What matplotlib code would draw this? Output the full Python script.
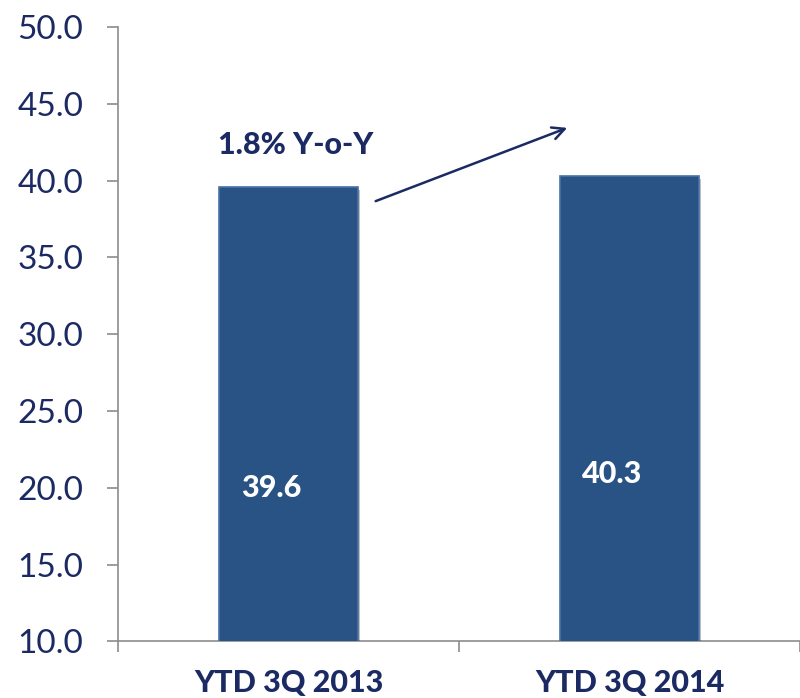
import matplotlib
matplotlib.use("Agg")
import matplotlib.pyplot as plt
import matplotlib.patheffects as pe
import numpy as np

categories = ["YTD 3Q 2013", "YTD 3Q 2014"]
values = [39.6, 40.3]
value_labels = ["39.6", "40.3"]
yticks = [10.0, 15.0, 20.0, 25.0, 30.0, 35.0, 40.0, 45.0, 50.0]
growth_label = "1.8% Y-o-Y"

navy = "#1b2a63"
bar_color = "#295285"
axis_gray = "#8c8c8c"

plt.rcParams['font.family'] = ['Lato', 'DejaVu Sans']

fig = plt.figure(figsize=(8, 6.98), dpi=100)
ax = fig.add_axes([0.1475, 0.081, 0.8525, 0.8803])

x = np.arange(len(categories)) + 0.5
bars = ax.bar(x, values, width=0.405, bottom=0, color=bar_color,
              edgecolor="#4a72a6", linewidth=1.2, zorder=3)
for b in bars:
    b.set_path_effects([pe.SimplePatchShadow(offset=(2, -2), shadow_rgbFace="#000000", alpha=0.25),
                        pe.Normal()])

ax.set_xlim(0, 2)
ax.set_ylim(10, 50)

# value labels inside bars
label_y = [20.0, 20.9]
for xi, ly, lab in zip(x, label_y, value_labels):
    ax.text(xi - 0.05, ly, lab, color="white", fontsize=22, fontweight="black",
            ha="center", va="center", zorder=5)

# growth annotation
ax.text(0.52, 42.35, growth_label, color=navy, fontsize=22, fontweight="black",
        ha="center", va="center")
ax.annotate("", xy=(1.325, 43.5), xytext=(0.748, 38.6),
            arrowprops=dict(arrowstyle="->", color=navy, lw=1.8,
                            mutation_scale=22), zorder=6)

# axes styling
for s in ["top", "right"]:
    ax.spines[s].set_visible(False)
for s in ["left", "bottom"]:
    ax.spines[s].set_color(axis_gray)
    ax.spines[s].set_linewidth(1.2)

ax.set_yticks(yticks)
ax.set_yticklabels([f"{v:.1f}" for v in yticks])
ax.tick_params(axis="y", direction="out", length=8, width=1.2, color=axis_gray,
               labelsize=24, labelcolor=navy, pad=17)

ax.set_xticks(x)
ax.set_xticklabels(categories)
ax.tick_params(axis="x", which="major", length=0, pad=20, labelsize=22, labelcolor=navy)
for t in ax.get_xticklabels():
    t.set_fontweight("black")
ax.set_xticks([0, 1, 2], minor=True)
ax.tick_params(axis="x", which="minor", direction="out", length=8, width=1.2, color=axis_gray)

fig.savefig("out.png", dpi=100)
